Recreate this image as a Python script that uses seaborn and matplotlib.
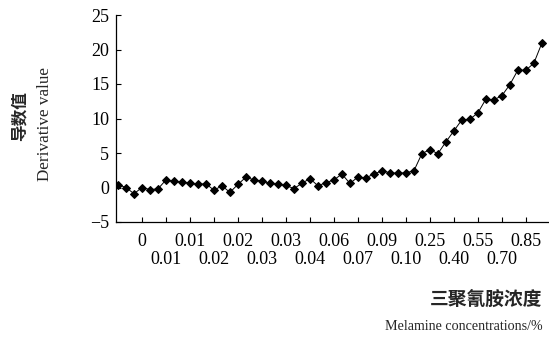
import numpy as np
import pandas as pd
import matplotlib
matplotlib.use("Agg")
import matplotlib.pyplot as plt
import seaborn as sns

# ---- data ----
derivative_values = [
    0.4, 0.0, -0.9, 0.0, -0.3, -0.2, 1.1, 0.9, 0.8, 0.65,
    0.45, 0.55, -0.4, 0.25, -0.7, 0.45, 1.5, 1.1, 0.95, 0.6,
    0.5, 0.3, -0.15, 0.6, 1.3, 0.25, 0.7, 1.1, 1.95, 0.6,
    1.5, 1.4, 1.95, 2.4, 2.15, 2.05, 2.15, 2.4, 4.9, 5.5,
    4.9, 6.6, 8.2, 9.8, 9.9, 10.8, 12.8, 12.7, 13.3, 14.9,
    17.0, 17.0, 18.0, 20.9,
]
tick_labels = ["0", "0.01", "0.01", "0.02", "0.02", "0.03", "0.03", "0.04", "0.06",
               "0.07", "0.09", "0.10", "0.25", "0.40", "0.55", "0.70", "0.85"]
y_ticks = [-5, 0, 5, 10, 15, 20, 25]

sample_index = list(range(len(derivative_values)))
tick_index = [3 + 3 * k for k in range(len(tick_labels))]

df = pd.DataFrame({"idx": sample_index, "val": derivative_values})

sns.set_style("ticks")
plt.rcParams['font.family'] = ['Liberation Serif', 'Noto Sans CJK SC']

fig = plt.figure(figsize=(5.49, 3.37), dpi=100)
ax = fig.add_axes([116 / 549, 1 - 222 / 337, 1 - 116 / 549, (222 - 15) / 337])

sns.lineplot(data=df, x="idx", y="val", ax=ax, color="black", linewidth=0.7,
             marker="D", markersize=4.0, markeredgecolor="black",
             markerfacecolor="black")

ax.set_xlim(-0.25, 53.9)
ax.set_ylim(-5, 25)
ax.set_yticks(y_ticks)
ax.set_yticklabels(["\u22125" if v < 0 else str(v) for v in y_ticks])

top_pos = [p for k, p in enumerate(tick_index) if k % 2 == 0]
top_lab = [l for k, l in enumerate(tick_labels) if k % 2 == 0]
bot_pos = [p for k, p in enumerate(tick_index) if k % 2 == 1]
bot_lab = [l for k, l in enumerate(tick_labels) if k % 2 == 1]
ax.set_xticks(top_pos)
ax.set_xticklabels(top_lab)
ax.set_xticks(bot_pos, minor=True)
ax.set_xticklabels(bot_lab, minor=True)

ax.tick_params(axis="both", which="both", direction="in", length=3.5, width=0.8,
               labelsize=13, colors="black")
ax.tick_params(axis="y", pad=5)
ax.tick_params(axis="x", which="major", pad=8)
ax.tick_params(axis="x", which="minor", pad=21)
for s in ["top", "right"]:
    ax.spines[s].set_visible(False)
for s in ["left", "bottom"]:
    ax.spines[s].set_linewidth(0.9)
    ax.spines[s].set_color("black")
ax.set_xlabel("")
ax.set_ylabel("")

fig.text(20 / 549, 1 - 116 / 337, "导数值", rotation=90, ha="center", va="center",
         family=["Noto Sans CJK SC"], fontweight="bold", fontsize=12)
fig.text(45 / 549, 1 - 124 / 337, "Derivative value", rotation=90, ha="center", va="center",
         family=["Liberation Serif"], fontsize=12.3)
fig.text(542 / 549, 1 - 299 / 337, "三聚氰胺浓度", ha="right", va="center",
         family=["Noto Sans CJK SC"], fontweight="bold", fontsize=13.5)
fig.text(543 / 549, 1 - 326 / 337, "Melamine concentrations/%", ha="right", va="center",
         family=["Liberation Serif"], fontsize=10.1)

fig.savefig("out.png", dpi=100)
